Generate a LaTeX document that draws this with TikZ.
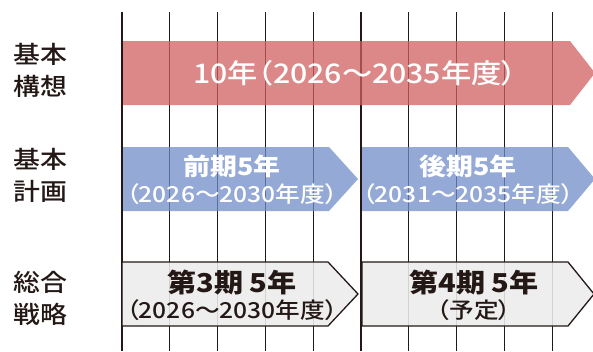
\documentclass[tikz,border=0pt]{standalone}
\usepackage{fontspec}
\newfontfamily\jp[FakeStretch=1.12, RawFeature=+palt]{Noto Sans CJK JP}
\IfFontExistsTF{Noto Sans CJK JP Medium}
	{\newfontfamily\jpm[FakeStretch=1.12, RawFeature=+palt]{Noto Sans CJK JP Medium}}
	{\newfontfamily\jpm[FakeStretch=1.12, RawFeature={+palt;embolden=1.2}]{Noto Sans CJK JP}}
\usetikzlibrary{positioning}
\definecolor{inkblack}{RGB}{35,24,21}
\definecolor{kousou}{RGB}{208,96,96}
\definecolor{keikaku}{RGB}{112,140,200}
\definecolor{senryaku}{RGB}{236,236,236}
\tikzset{gridline/.style={draw=inkblack, line width=1.3pt}}
\tikzset{kousoubar/.style={fill=kousou, fill opacity=0.75}}
\tikzset{keikakubar/.style={fill=keikaku, fill opacity=0.75}}
\tikzset{senryakubar/.style={fill=senryaku, fill opacity=0.88, draw=inkblack, line width=1.3pt, line join=miter}}
\tikzset{rowlabel/.style={font=\jpm\fontsize{24}{32}\selectfont, text=inkblack, align=center, inner sep=0pt}}
\tikzset{bigtext/.style args = {#1,#2}{font=\jp\bfseries\fontsize{#1}{#1}\selectfont, text=#2, inner sep=0pt}}
\tikzset{subtext/.style args = {#1,#2}{font=\jpm\fontsize{#1}{#1}\selectfont, text=#2, inner sep=0pt}}

\begin{document}
\begin{tikzpicture}[x=1pt, y=-1pt]
	\useasboundingbox (0,0) rectangle (593,351);
	\clip (0,0) rectangle (593,351);

	% year grid
	\foreach \i in {0,...,9}
		\draw[gridline] ({122+47.8*\i},12) -- ({122+47.8*\i},351);

	% bars
	\fill[kousoubar] (123,41) -- (570,41) -- (595,73) -- (570,105) -- (123,105) -- cycle;
	\fill[keikakubar] (123,147) -- (329,147) -- (358,179) -- (329,211) -- (123,211) -- cycle;
	\fill[keikakubar] (362,147) -- (568,147) -- (595,179) -- (568,211) -- (362,211) -- cycle;
	\draw[senryakubar] (122,262) -- (328,262) -- (358,294) -- (328,326) -- (122,326) -- cycle;
	\draw[senryakubar] (362,262) -- (568,262) -- (594,294) -- (568,326) -- (362,326) -- cycle;

	% row labels
	\node[rowlabel] (kihonkousou) at (40,70) {基本\\構想};
	\node[rowlabel] (kihonkeikaku) at (40,175) {基本\\計画};
	\node[rowlabel] (sougousenryaku) at (40,298) {総合\\戦略};

	% bar texts
	\node[subtext={27,white}] (kousou-1) at (355,73) {10年（2026～2035年度）};

	\node[bigtext={24,white}] (zenki-1) at (232,166) {前期5年};
	\node[subtext={22,white}] (zenki-2) at (232,194) {（2026～2030年度）};
	\node[bigtext={24,white}] (kouki-1) at (468,166) {後期5年};
	\node[subtext={22,white}] (kouki-2) at (468,194) {（2031～2035年度）};

	\node[bigtext={26,inkblack}] (dai3-1) at (232,283) {第3期 5年};
	\node[subtext={22,inkblack}] (dai3-2) at (232,310) {（2026～2030年度）};
	\node[bigtext={26,inkblack}] (dai4-1) at (474,283) {第4期 5年};
	\node[subtext={22,inkblack}] (dai4-2) at (474,310) {（予定）};
\end{tikzpicture}
\end{document}
